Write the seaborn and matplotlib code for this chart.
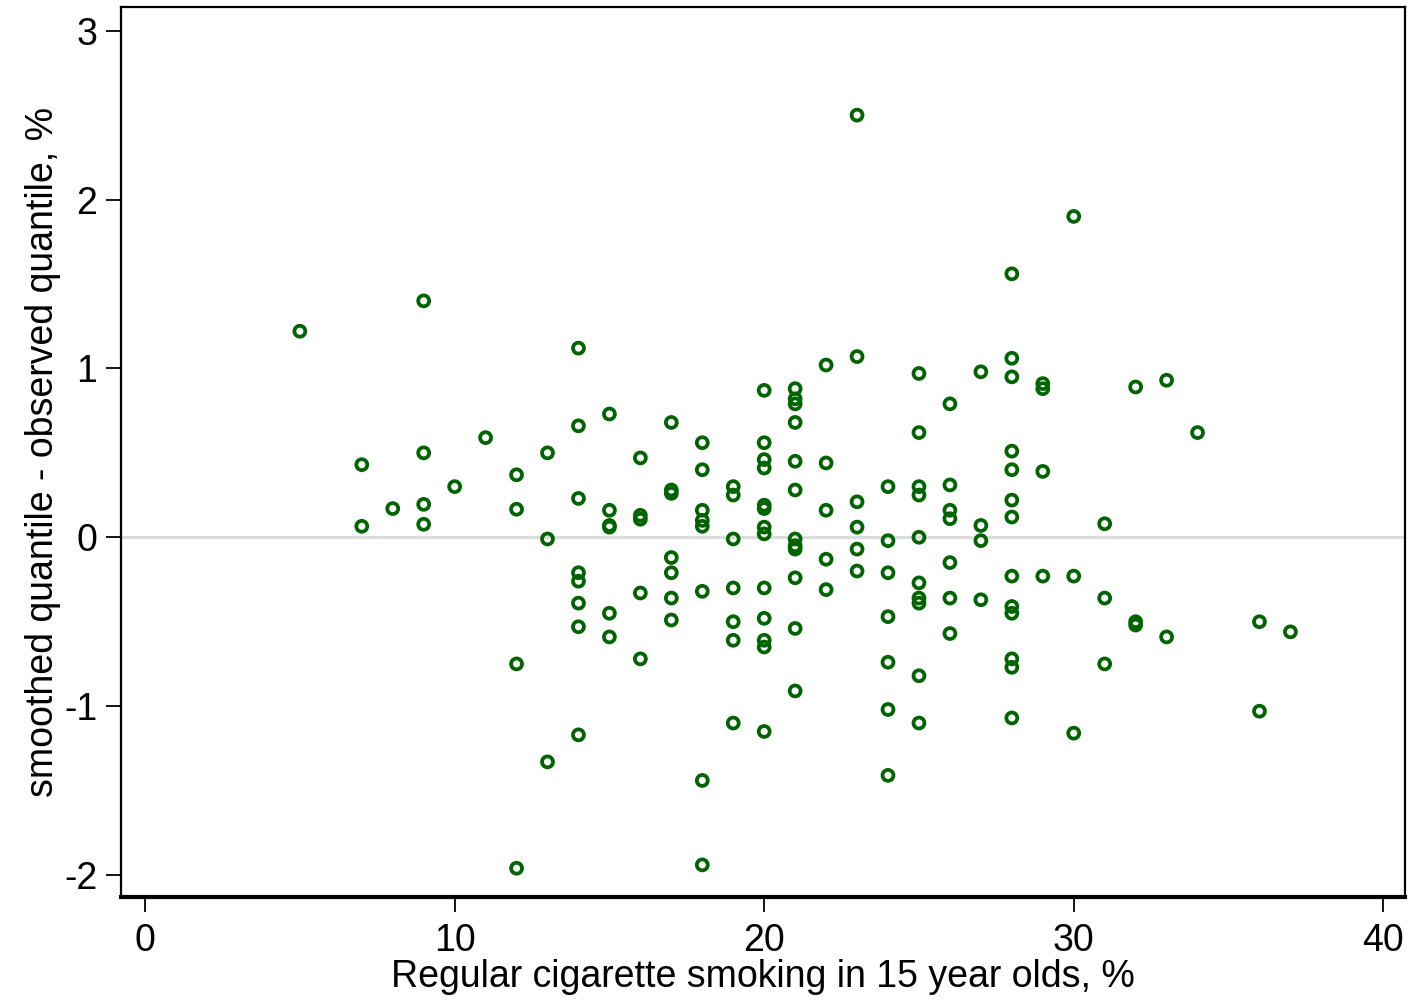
import numpy as np
import pandas as pd
import matplotlib
matplotlib.use("Agg")
import matplotlib.pyplot as plt
import seaborn as sns

# smoking prevalence (%) and smoothed - observed quantile (%)
smoking = [5,
           7, 7,
           8,
           9, 9, 9, 9,
           10,
           11,
           12, 12, 12, 12,
           13, 13, 13,
           14, 14, 14, 14, 14, 14, 14, 14,
           15, 15, 15, 15, 15, 15,
           16, 16, 16, 16, 16,
           17, 17, 17, 17, 17, 17, 17,
           18, 18, 18, 18, 18, 18, 18, 18,
           19, 19, 19, 19, 19, 19, 19,
           20, 20, 20, 20, 20, 20, 20, 20, 20, 20, 20, 20, 20,
           21, 21, 21, 21, 21, 21, 21, 21, 21, 21, 21, 21,
           22, 22, 22, 22, 22,
           23, 23, 23, 23, 23, 23,
           24, 24, 24, 24, 24, 24, 24,
           25, 25, 25, 25, 25, 25, 25, 25, 25, 25,
           26, 26, 26, 26, 26, 26, 26,
           27, 27, 27, 27,
           28, 28, 28, 28, 28, 28, 28, 28, 28, 28, 28, 28, 28,
           29, 29, 29, 29,
           30, 30, 30,
           31, 31, 31,
           32, 32, 32,
           33, 33,
           34,
           36, 36,
           37]

diff = [1.22,
        0.43, 0.065,
        0.17,
        1.40, 0.50, 0.195, 0.077,
        0.30,
        0.59,
        0.37, 0.166, -0.75, -1.96,
        0.50, -0.01, -1.33,
        1.12, 0.66, 0.23, -0.21, -0.26, -0.39, -0.53, -1.17,
        0.73, 0.16, 0.07, 0.06, -0.45, -0.59,
        0.47, 0.13, 0.107, -0.33, -0.72,
        0.68, 0.28, 0.26, -0.12, -0.21, -0.36, -0.49,
        0.56, 0.40, 0.16, 0.10, 0.065, -0.32, -1.44, -1.94,
        0.30, 0.25, -0.01, -0.30, -0.50, -0.61, -1.10,
        0.87, 0.56, 0.46, 0.41, 0.19, 0.17, 0.06, 0.02, -0.30, -0.48, -0.61, -0.65, -1.15,
        0.88, 0.82, 0.79, 0.68, 0.45, 0.28, -0.01, -0.05, -0.07, -0.24, -0.54, -0.91,
        1.02, 0.44, 0.16, -0.13, -0.31,
        2.50, 1.07, 0.21, 0.06, -0.07, -0.20,
        0.30, -0.02, -0.21, -0.47, -0.74, -1.02, -1.41,
        0.97, 0.62, 0.30, 0.25, 0.00, -0.27, -0.36, -0.39, -0.82, -1.10,
        0.79, 0.31, 0.16, 0.11, -0.15, -0.36, -0.57,
        0.98, 0.07, -0.02, -0.37,
        1.56, 1.06, 0.95, 0.51, 0.40, 0.22, 0.12, -0.23, -0.41, -0.45, -0.72, -0.77, -1.07,
        0.91, 0.88, 0.39, -0.23,
        1.90, -0.23, -1.16,
        0.08, -0.36, -0.75,
        0.89, -0.50, -0.52,
        0.93, -0.59,
        0.62,
        -0.50, -1.03,
        -0.56]

df = pd.DataFrame({"smoking": smoking, "diff": diff})

sns.set_style("white")
plt.rcParams['font.family'] = ['Liberation Sans', 'DejaVu Sans']
plt.rcParams['axes.unicode_minus'] = False
plt.rcParams['text.color'] = 'black'
plt.rcParams['axes.labelcolor'] = 'black'
plt.rcParams['xtick.color'] = 'black'
plt.rcParams['ytick.color'] = 'black'

fig = plt.figure(figsize=(14.13, 10.05), dpi=100)
ax = fig.add_axes([0.0856, 0.1075, 0.9087, 0.8855])

ax.axhline(0, color="#dcdcdc", lw=2.2, zorder=1)

sns.scatterplot(data=df, x="smoking", y="diff", ax=ax, marker="o",
                facecolors="none", edgecolor="#006400", linewidth=2.7,
                s=62, zorder=3)

ax.set_xlim(-0.78, 40.7)
ax.set_ylim(-2.13, 3.14)
ax.set_xticks([0, 10, 20, 30, 40])
ax.set_yticks([-2, -1, 0, 1, 2, 3])
ax.tick_params(axis="both", direction="out", length=11, width=1.3,
               labelsize=27, pad=8, bottom=True, left=True)
ax.tick_params(axis="y", pad=6)
for sp in ax.spines.values():
    sp.set_color("black")
    sp.set_linewidth(1.6)
ax.spines["bottom"].set_linewidth(3)

ax.set_xlabel("Regular cigarette smoking in 15 year olds, %", fontsize=27, labelpad=0)
ax.set_ylabel("smoothed quantile - observed quantile, %", fontsize=27, labelpad=2)

fig.savefig("out.png", dpi=100)
